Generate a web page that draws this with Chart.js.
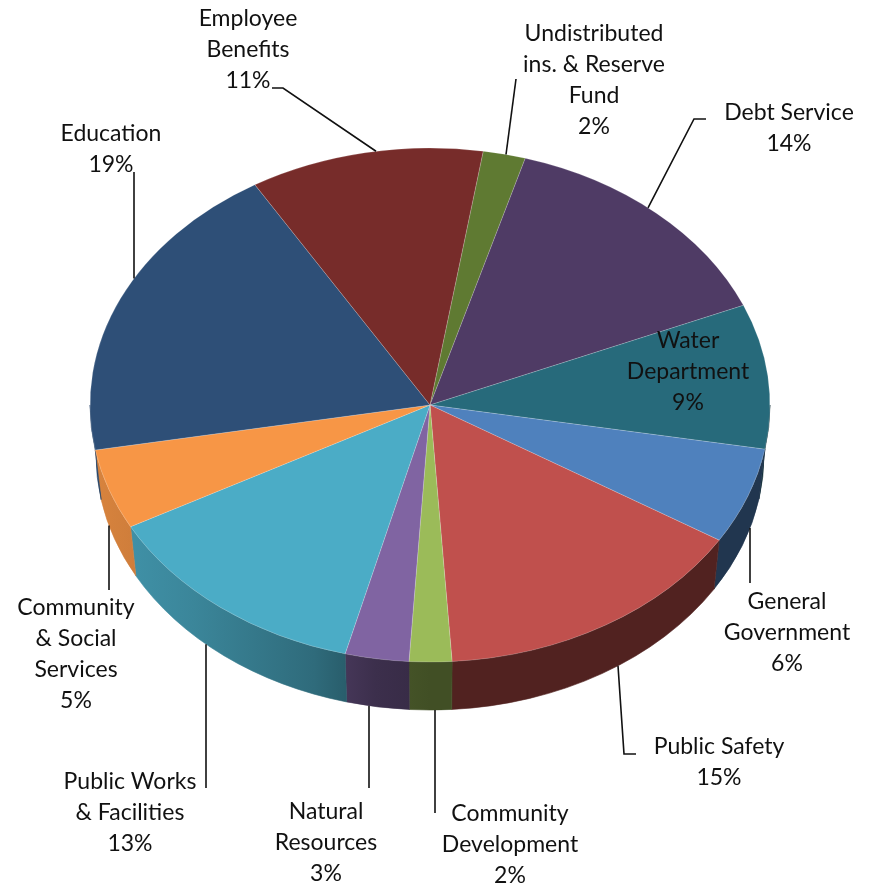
<!DOCTYPE html>
<html>
<head>
<meta charset="utf-8">
<script src="https://cdn.jsdelivr.net/npm/chart.js@4.4.0/dist/chart.umd.min.js"></script>
<style>
  html, body { margin: 0; padding: 0; background: #fff; }
  #wrap { width: 879px; height: 888px; }
</style>
</head>
<body>
<div id="wrap"><canvas id="budgetPie" width="879" height="888"></canvas></div>
<script>
// slices in clockwise order, starting just right of the top
const categories = [
  'Undistributed ins. & Reserve Fund', 'Debt Service', 'Water Department',
  'General Government', 'Public Safety', 'Community Development',
  'Natural Resources', 'Public Works & Facilities',
  'Community & Social Services', 'Education', 'Employee Benefits'
];
const shares = [2, 14, 9, 6, 15, 2, 3, 13, 5, 19, 11];
const sliceColors = [
  '#5F7A32', '#4F3B65', '#276A7B', '#4F81BD', '#C0504D', '#9BBB59',
  '#8064A2', '#4BACC6', '#F79646', '#2E4F77', '#772C2A'
];
const labelLines = [
  ['Undistributed', 'ins. & Reserve', 'Fund'],
  ['Debt Service'],
  ['Water', 'Department'],
  ['General', 'Government'],
  ['Public Safety'],
  ['Community', 'Development'],
  ['Natural', 'Resources'],
  ['Public Works', '& Facilities'],
  ['Community', '& Social', 'Services'],
  ['Education'],
  ['Employee', 'Benefits']
];

// label layout: text centre x, first baseline y, leader bends, and the x where the leader meets the pie
const labelPos = [
  { x: 594, y: 41, lead: [[516, 79]], edge: [506, 'top'] },
  { x: 789, y: 120, lead: [[706, 119], [694, 119]], edge: [648, 'top'] },
  { x: 688, y: 348 },
  { x: 787, y: 609, lead: [[750, 583]], edge: [750, 'front'] },
  { x: 719, y: 754, lead: [[636, 754], [624, 754]], edge: [618, 'front'] },
  { x: 510, y: 821, lead: [[435, 813]], edge: [435, 'front'] },
  { x: 326, y: 819, lead: [[369, 788]], edge: [369, 'front'] },
  { x: 130, y: 789, lead: [[206, 788]], edge: [206, 'front'] },
  { x: 76, y: 615, lead: [[109, 590]], edge: [109, 'front'] },
  { x: 111, y: 141, lead: [[134, 172]], edge: [134, 'top'] },
  { x: 248, y: 26, lead: [[272, 88], [283, 88]], edge: [376, 'top'] }
];

const TILT = 257 / 340;
const DEPTH = 50;
const SHRINK_X = 6;   // bottom rim looks a little narrower (perspective)
const SHRINK_Y = 2;
const LINE_H = 31;
const sideStops = [[0, 0.88], [0.15, 0.78], [0.33, 0.62], [0.42, 0.47], [0.5, 0.42], [1, 0.42]];

function shade(hex, f) {
  const n = parseInt(hex.slice(1), 16);
  const r = Math.round(((n >> 16) & 255) * f);
  const g = Math.round(((n >> 8) & 255) * f);
  const b = Math.round((n & 255) * f);
  return `rgb(${r},${g},${b})`;
}

function frontParts(s, e) {
  const parts = [];
  for (const base of [-2 * Math.PI, 0, 2 * Math.PI]) {
    const a = Math.max(s, base), b = Math.min(e, base + Math.PI);
    if (b > a) parts.push([a, b]);
  }
  return parts;
}

function edgeY(arc, px, where) {
  if (where === 'top') {
    const r = arc.outerRadius, ry = r * TILT;
    const t = Math.min(1, Math.abs(px - arc.x) / r);
    return arc.y - ry * Math.sqrt(1 - t * t);
  }
  const r = arc.outerRadius - SHRINK_X, ry = arc.outerRadius * TILT - SHRINK_Y;
  const t = Math.min(1, Math.abs(px - arc.x) / r);
  return arc.y + DEPTH + ry * Math.sqrt(1 - t * t);
}

const pie3d = {
  id: 'pie3d',
  beforeDatasetsDraw(chart) {
    const ctx = chart.ctx;
    const arcs = chart.getDatasetMeta(0).data;
    const colors = chart.data.datasets[0].backgroundColor;
    ctx.save();
    arcs.forEach((el, i) => {
      const arc = el.getProps(['x', 'y', 'startAngle', 'endAngle', 'outerRadius'], true);
      const r = arc.outerRadius, ry = r * TILT;
      const grad = ctx.createLinearGradient(arc.x - r, 0, arc.x + r, 0);
      sideStops.forEach(([t, f]) => grad.addColorStop(t, shade(colors[i], f)));
      frontParts(arc.startAngle, arc.endAngle).forEach(([a, b]) => {
        ctx.beginPath();
        ctx.ellipse(arc.x, arc.y, r, ry, 0, a, b, false);
        ctx.ellipse(arc.x, arc.y + DEPTH, r - SHRINK_X, ry - SHRINK_Y, 0, b, a, true);
        ctx.closePath();
        ctx.fillStyle = grad;
        ctx.strokeStyle = grad;
        ctx.lineWidth = 0.6;
        ctx.fill();
        ctx.stroke();
      });
    });
    ctx.restore();
    // squash the top face into an ellipse
    const a0 = arcs[0];
    ctx.save();
    ctx.translate(a0.x, a0.y);
    ctx.scale(1, TILT);
    ctx.translate(-a0.x, -a0.y);
  },
  afterDatasetsDraw(chart) {
    chart.ctx.restore();
  }
};

const pieLabels = {
  id: 'pieLabels',
  afterDraw(chart) {
    const ctx = chart.ctx;
    const arcs = chart.getDatasetMeta(0).data;
    const values = chart.data.datasets[0].data;
    const total = values.reduce((s, v) => s + v, 0);
    ctx.save();
    ctx.font = '23px Lato, "Open Sans", sans-serif';
    ctx.fillStyle = '#111';
    ctx.textAlign = 'center';
    ctx.textBaseline = 'alphabetic';
    ctx.strokeStyle = '#111';
    ctx.lineWidth = 1.6;
    labelPos.forEach((p, i) => {
      const lines = labelLines[i].concat(Math.round(values[i] / total * 100) + '%');
      lines.forEach((t, k) => ctx.fillText(t, p.x, p.y + k * LINE_H));
      if (p.lead) {
        const arc = arcs[i];
        ctx.beginPath();
        ctx.moveTo(p.lead[0][0], p.lead[0][1]);
        p.lead.slice(1).forEach(([x, y]) => ctx.lineTo(x, y));
        ctx.lineTo(p.edge[0], edgeY(arc, p.edge[0], p.edge[1]));
        ctx.stroke();
      }
    });
    ctx.restore();
  }
};

new Chart(document.getElementById('budgetPie'), {
  type: 'pie',
  data: {
    labels: categories,
    datasets: [{
      data: shares,
      backgroundColor: sliceColors,
      borderColor: 'rgba(255,255,255,0.35)',
      borderWidth: 0.6,
      radius: 340,
      rotation: 9,
      clip: false
    }]
  },
  options: {
    responsive: false,
    animation: false,
    events: [],
    rotation: 9,
    layout: { padding: { left: 90, right: 109, top: 65, bottom: 143 } },
    plugins: {
      legend: { display: false },
      tooltip: { enabled: false }
    }
  },
  plugins: [pie3d, pieLabels]
});
</script>
</body>
</html>
